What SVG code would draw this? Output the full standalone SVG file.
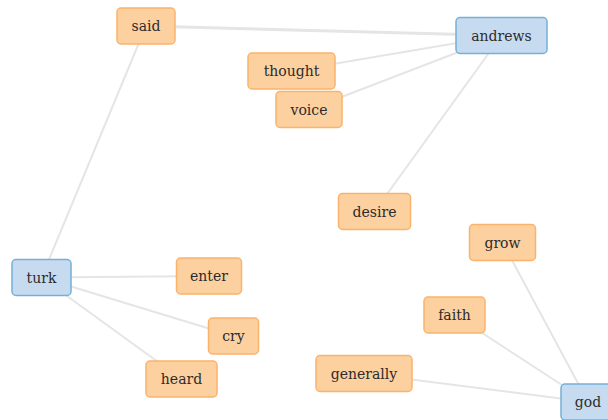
<svg xmlns="http://www.w3.org/2000/svg" width="608" height="420" viewBox="0 0 608 420">
<style>
.e{stroke:#e5e5e5;stroke-width:2;fill:none}
.o rect{fill:#fdd0a0;stroke:#fbb36c;stroke-width:1.5}
.b rect{fill:#c6dbef;stroke:#74b0d9;stroke-width:1.5}
text{font-family:"DejaVu Serif","Liberation Serif",serif;font-size:14px;fill:#2b2b2b;text-anchor:middle;dominant-baseline:central}
</style>
<rect width="608" height="420" fill="#fff"/>
<g id="connectors">
<line class="e" x1="146" y1="26" x2="501.5" y2="35.5" style="stroke-width:3"/>
<line class="e" x1="146" y1="26" x2="41.5" y2="277.5"/>
<line class="e" x1="291.5" y1="71" x2="501.5" y2="35.5"/>
<line class="e" x1="309" y1="109.5" x2="501.5" y2="35.5"/>
<line class="e" x1="374.5" y1="211.5" x2="501.5" y2="35.5"/>
<line class="e" x1="41.5" y1="277.5" x2="209" y2="276"/>
<line class="e" x1="41.5" y1="277.5" x2="233.5" y2="336"/>
<line class="e" x1="41.5" y1="277.5" x2="181.5" y2="379"/>
<line class="e" x1="502.5" y1="242.5" x2="588" y2="402"/>
<line class="e" x1="454.5" y1="315" x2="588" y2="402"/>
<line class="e" x1="364" y1="373.5" x2="588" y2="402"/>
</g>
<g id="said" class="o"><rect x="117" y="8" width="58" height="36" rx="4"/><text x="146" y="26">said</text></g>
<g id="andrews" class="b"><rect x="456" y="17.5" width="91" height="36" rx="4"/><text x="501.5" y="35.5">andrews</text></g>
<g id="thought" class="o"><rect x="248" y="53" width="87" height="36" rx="4"/><text x="291.5" y="71">thought</text></g>
<g id="voice" class="o"><rect x="276" y="91.5" width="66" height="36" rx="4"/><text x="309" y="109.5">voice</text></g>
<g id="desire" class="o"><rect x="338.5" y="193.5" width="72" height="36" rx="4"/><text x="374.5" y="211.5">desire</text></g>
<g id="turk" class="b"><rect x="12" y="259.5" width="59" height="36" rx="4"/><text x="41.5" y="277.5">turk</text></g>
<g id="enter" class="o"><rect x="176.5" y="258" width="65" height="36" rx="4"/><text x="209" y="276">enter</text></g>
<g id="cry" class="o"><rect x="208.5" y="318" width="50" height="36" rx="4"/><text x="233.5" y="336">cry</text></g>
<g id="heard" class="o"><rect x="146" y="361" width="71" height="36" rx="4"/><text x="181.5" y="379">heard</text></g>
<g id="grow" class="o"><rect x="469.5" y="224.5" width="66" height="36" rx="4"/><text x="502.5" y="242.5">grow</text></g>
<g id="faith" class="o"><rect x="424" y="297" width="61" height="36" rx="4"/><text x="454.5" y="315">faith</text></g>
<g id="generally" class="o"><rect x="316" y="355.5" width="96" height="36" rx="4"/><text x="364" y="373.5">generally</text></g>
<g id="god" class="b"><rect x="561" y="384" width="54" height="36" rx="4"/><text x="588" y="402">god</text></g>
</svg>
